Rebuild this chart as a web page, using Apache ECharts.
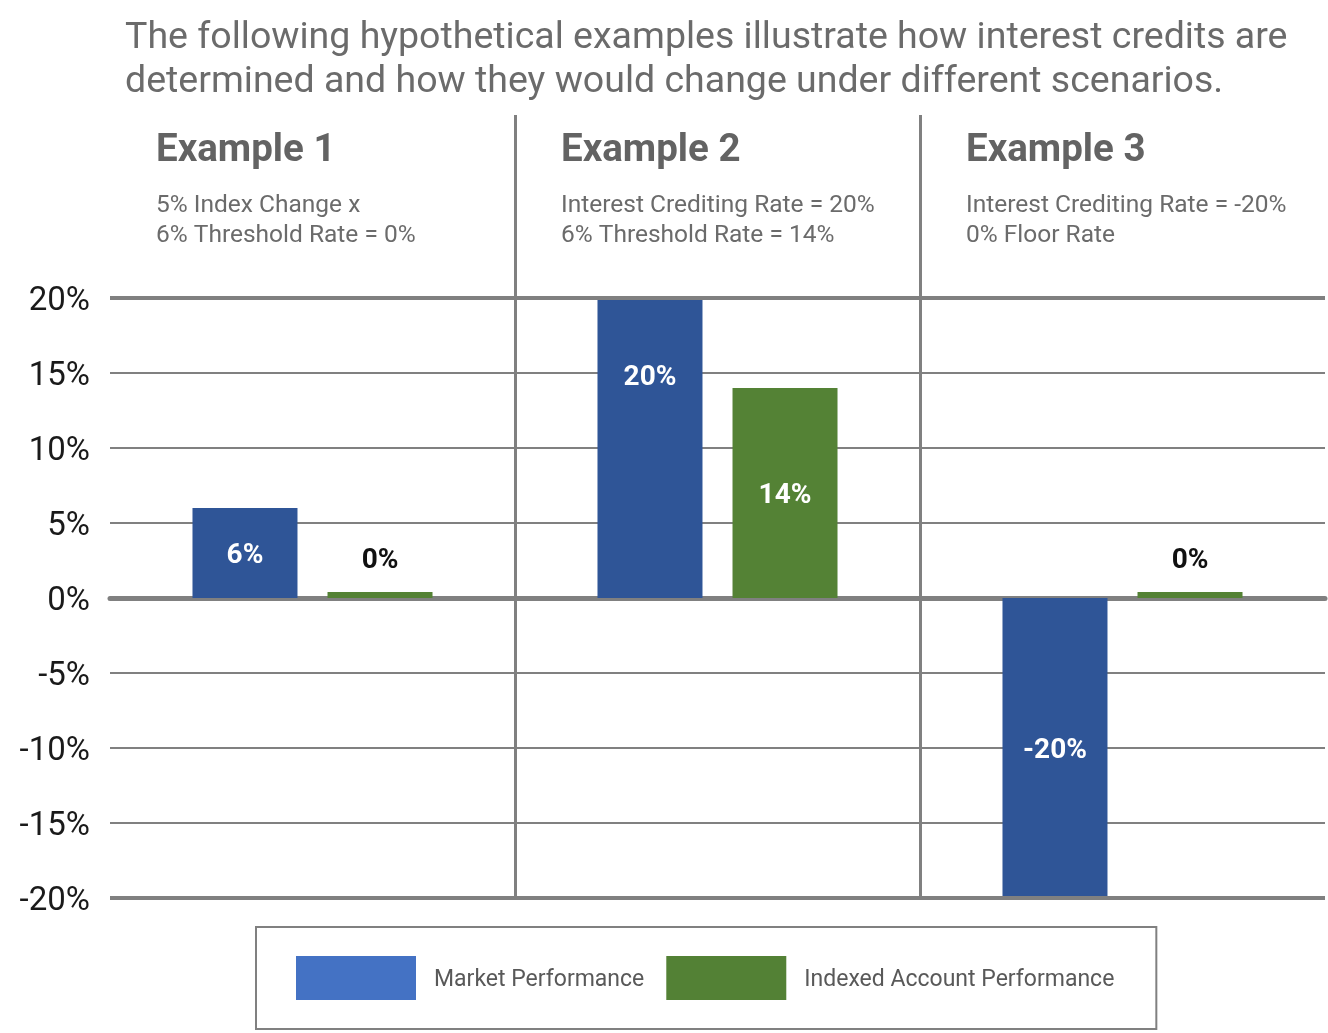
<!DOCTYPE html>
<html>
<head>
<meta charset="utf-8">
<script src="https://cdn.jsdelivr.net/npm/echarts@6/dist/echarts.min.js"></script>
<style>
  html, body { margin: 0; padding: 0; background: #fff; }
  #main { width: 1328px; height: 1033px; }
</style>
</head>
<body>
<div id="main"></div>
<script>
// data
var categories = ['Example 1', 'Example 2', 'Example 3'];
var subLines = [
  '5% Index Change x\n6% Threshold Rate = 0%',
  'Interest Crediting Rate = 20%\n6% Threshold Rate = 14%',
  'Interest Crediting Rate = -20%\n0% Floor Rate'
];
var marketPerformance = [6, 20, -20];
var indexedPerformance = [0, 14, 0];
var seriesNames = ['Market Performance', 'Indexed Account Performance'];

var GRID = '#808080';
var FONT = 'Roboto, "Noto Sans", sans-serif';

var chart = echarts.init(document.getElementById('main'), null, { renderer: 'canvas' });

// page title + column headers as title blocks
var titles = [{
  text: 'The following hypothetical examples illustrate how interest credits are\ndetermined and how they would change under different scenarios.',
  left: 120,
  top: 12,
  textStyle: { fontFamily: FONT, fontSize: 37.5, fontWeight: 'normal', color: '#6b6b6b', lineHeight: 44 }
}];
for (var i = 0; i < categories.length; i++) {
  titles.push({
    text: categories[i],
    subtext: subLines[i],
    left: 151 + i * 405,
    top: 127,
    itemGap: 20,
    textStyle: { fontFamily: FONT, fontSize: 38.5, fontWeight: 'bold', color: '#636363' },
    subtextStyle: { fontFamily: FONT, fontSize: 24.5, color: '#6b6b6b', lineHeight: 30 }
  });
}

// market bars: the 20% label sits near the top in the original
var marketData = marketPerformance.map(function (v) {
  var item = { value: v };
  if (v === 20) {
    item.label = { position: 'insideTop', distance: 63 };
  }
  return item;
});

var barLabel = {
  show: true,
  position: 'inside',
  formatter: '{c}%',
  offset: [0, 3],
  fontFamily: FONT,
  fontSize: 28,
  fontWeight: 'bold',
  color: '#fff'
};

var option = {
  animation: false,
  backgroundColor: '#fff',
  title: titles,
  grid: [
    { left: 110, right: 3, top: 298, bottom: 135 },
    { left: 110, right: 3, top: 115, height: 183 }
  ],
  xAxis: [{
    type: 'category',
    data: categories,
    gridIndex: 0,
    axisLine: { onZero: true, lineStyle: { color: GRID, width: 5 } },
    axisTick: { show: false },
    axisLabel: { show: false },
    splitLine: { show: true, showMinLine: false, showMaxLine: false, lineStyle: { color: GRID, width: 3 } }
  }, {
    type: 'category',
    data: categories,
    gridIndex: 1,
    axisLine: { show: false },
    axisTick: { show: false },
    axisLabel: { show: false },
    splitLine: { show: true, showMinLine: false, showMaxLine: false, lineStyle: { color: GRID, width: 3 } }
  }],
  yAxis: [{
    type: 'value',
    gridIndex: 0,
    min: -20,
    max: 20,
    interval: 5,
    axisLine: { show: false },
    axisTick: { show: false },
    axisLabel: {
      formatter: '{t|{value}%}',
      margin: 20,
      rich: {
        t: { fontFamily: FONT, fontSize: 33, color: '#1a1a1a', padding: [7, 0, 0, 0] }
      }
    },
    splitLine: { lineStyle: { color: GRID, width: 2 } }
  }, {
    type: 'value',
    gridIndex: 1,
    show: false,
    min: 0,
    max: 1
  }],
  legend: {
    left: 256,
    top: 927,
    padding: [29, 42, 29, 40],
    borderColor: GRID,
    borderWidth: 2,
    itemWidth: 120,
    itemHeight: 44,
    itemGap: 22,
    icon: 'rect',
    formatter: '{t|{name}}',
    textStyle: {
      rich: {
        t: { fontFamily: FONT, fontSize: 23, color: '#595959', padding: [5, 0, 0, 13] }
      }
    },
    data: [
      { name: seriesNames[0], itemStyle: { color: '#4472C4' } },
      { name: seriesNames[1], itemStyle: { color: '#538135' } }
    ]
  },
  series: [{
    name: seriesNames[0],
    type: 'bar',
    xAxisIndex: 0,
    yAxisIndex: 0,
    data: marketData,
    barWidth: 105,
    barGap: '28.6%',
    itemStyle: { color: '#2F5597' },
    label: barLabel,
    markLine: {
      silent: true,
      symbol: 'none',
      label: { show: false },
      lineStyle: { color: GRID, width: 4, type: 'solid' },
      data: [{ yAxis: 20 }, { yAxis: -20 }]
    }
  }, {
    name: seriesNames[1],
    type: 'bar',
    xAxisIndex: 0,
    yAxisIndex: 0,
    data: indexedPerformance.map(function (v) {
      return v === 0 ? { value: v, label: { position: 'top', distance: 20, color: '#111' } } : v;
    }),
    barWidth: 105,
    barMinHeight: 6,
    itemStyle: { color: '#548235' },
    label: barLabel
  }]
};

chart.setOption(option);
</script>
</body>
</html>
